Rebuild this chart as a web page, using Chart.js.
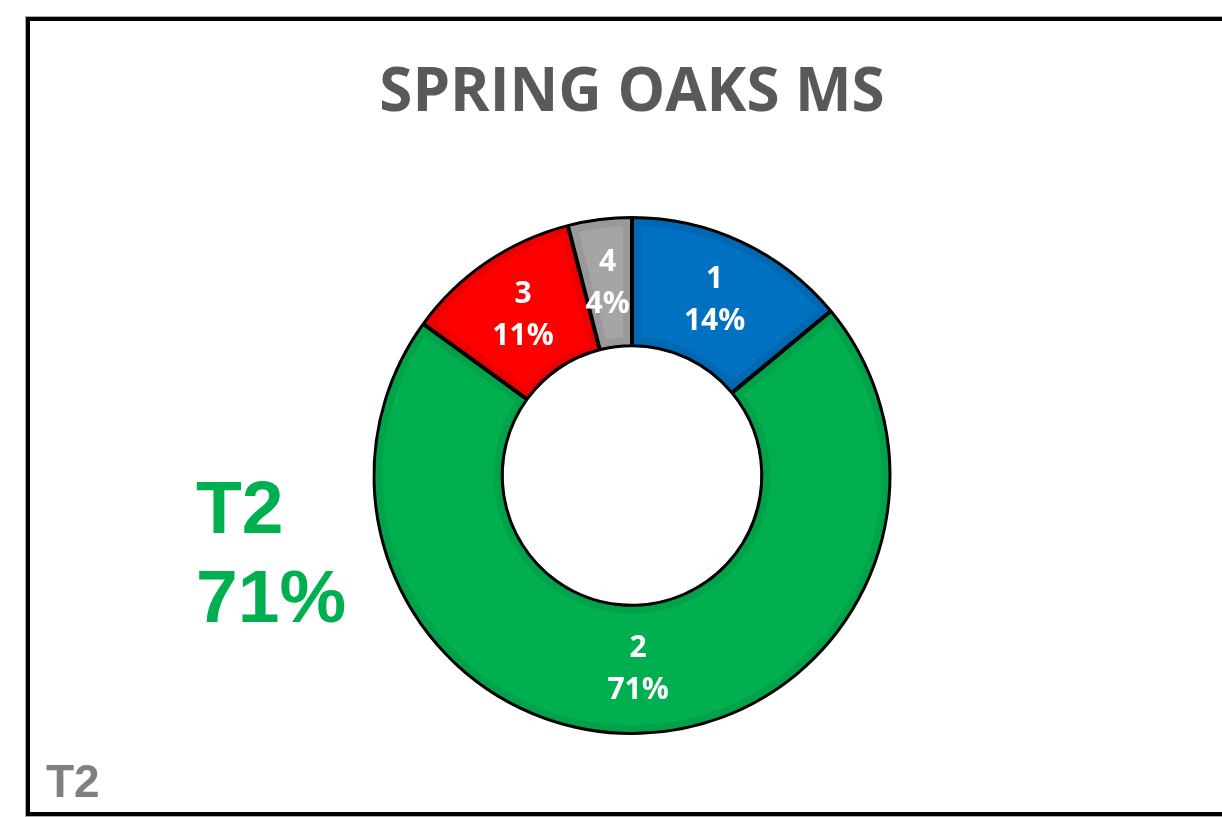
<!DOCTYPE html>
<html>
<head>
<meta charset="utf-8">
<script src="https://cdn.jsdelivr.net/npm/chart.js@4"></script>
<style>
    html, body { margin: 0; padding: 0; background: #fff; overflow: hidden; }
    #wrap { position: relative; width: 1222px; height: 817px; }
    #frame {
        position: absolute; left: 26px; top: 17px; width: 1230px; height: 791px;
        border: 4px solid #000; box-shadow: 0 0 0 1px #aaa;
    }
    canvas { position: absolute; left: 0; top: 0; }
</style>
</head>
<body>
<div id="wrap">
    <div id="frame"></div>
    <canvas id="donut" width="1222" height="817"></canvas>
</div>
<script>
const categories = ['1', '2', '3', '4'];
const shares = [14, 71, 11, 4];
const shareLabels = ['14%', '71%', '11%', '4%'];
const sliceColors = ['#0070C0', '#00B050', '#FF0000', '#A5A5A5'];
const chartTitle = 'SPRING OAKS MS';
const bigNote = ['T2', '71%'];
const cornerNote = 'T2';

// darker inner band along the edge of each slice
const bevel = {
    id: 'bevel',
    afterDatasetsDraw(chart) {
        const ctx = chart.ctx;
        chart.getDatasetMeta(0).data.forEach(arc => {
            const p = arc.getProps(['x', 'y', 'startAngle', 'endAngle', 'innerRadius', 'outerRadius'], true);
            ctx.save();
            ctx.beginPath();
            ctx.arc(p.x, p.y, p.outerRadius, p.startAngle, p.endAngle);
            ctx.arc(p.x, p.y, p.innerRadius, p.endAngle, p.startAngle, true);
            ctx.closePath();
            ctx.clip();
            ctx.lineWidth = 18;
            ctx.strokeStyle = 'rgba(0,0,0,0.07)';
            ctx.stroke();
            ctx.lineWidth = 4;
            ctx.strokeStyle = '#000';
            ctx.stroke();
            ctx.restore();
        });
    }
};

// slice labels + side notes
const notes = {
    id: 'notes',
    afterDraw(chart) {
        const ctx = chart.ctx;
        ctx.save();
        ctx.fillStyle = '#fff';
        ctx.textAlign = 'center';
        ctx.textBaseline = 'middle';
        ctx.font = 'bold 30px "Open Sans"';
        chart.getDatasetMeta(0).data.forEach((arc, i) => {
            const pos = arc.tooltipPosition();
            ctx.fillText(categories[i], pos.x, pos.y - 21);
            ctx.fillText(shareLabels[i], pos.x, pos.y + 21);
        });

        ctx.textAlign = 'left';
        ctx.textBaseline = 'alphabetic';
        ctx.fillStyle = '#00B050';
        ctx.font = 'bold 75px "Liberation Sans"';
        ctx.fillText(bigNote[0], 196, 533);
        ctx.fillText(bigNote[1], 196, 622);

        ctx.fillStyle = '#808080';
        ctx.font = 'bold 46px "Liberation Sans"';
        ctx.fillText(cornerNote, 46, 797);
        ctx.restore();
    }
};

new Chart(document.getElementById('donut'), {
    type: 'doughnut',
    data: {
        labels: categories,
        datasets: [{
            data: shares,
            backgroundColor: sliceColors,
            borderColor: '#000',
            borderWidth: 2,
            hoverOffset: 0
        }]
    },
    options: {
        responsive: false,
        animation: false,
        cutout: '50%',
        layout: { padding: { left: 300, right: 258, top: 0, bottom: 82 } },
        plugins: {
            legend: { display: false },
            tooltip: { enabled: false },
            title: {
                display: true,
                text: chartTitle,
                color: '#595959',
                font: { family: '"Open Sans"', size: 60, weight: 'bold', lineHeight: 1.2 },
                padding: { top: 58, bottom: 86 }
            }
        }
    },
    plugins: [bevel, notes]
});
</script>
</body>
</html>
